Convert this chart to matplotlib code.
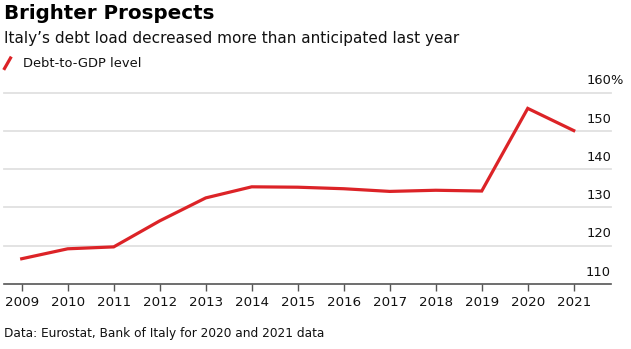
import matplotlib.pyplot as plt

plt.rcParams['font.family'] = ['DejaVu Sans']

years = [2009, 2010, 2011, 2012, 2013, 2014, 2015, 2016, 2017, 2018, 2019, 2020, 2021]
debt_to_gdp = [116.6, 119.2, 119.7, 126.5, 132.5, 135.4, 135.3, 134.9, 134.2, 134.5, 134.3, 155.9, 150.1]
y_ticks = [110, 120, 130, 140, 150, 160]

RED = '#dc2327'
W, H = 631, 349

fig = plt.figure(figsize=(W / 100, H / 100), dpi=100)
ax = fig.add_axes([4 / W, 65 / H, 607 / W, 191.3 / H])

# gridlines above the baseline, axis line at 110
for v in y_ticks[1:]:
    ax.axhline(v, color='#e1e1e1', lw=1.3, zorder=1, clip_on=False)
ax.plot(years, debt_to_gdp, color=RED, lw=2.3, zorder=3, solid_joinstyle='miter', clip_on=False)

ax.set_xlim(2008.615, 2021.81)
ax.set_ylim(110, 160)
ax.set_xticks(years)
ax.set_xticklabels([str(y) for y in years], fontsize=9.6, color='#111111')
ax.tick_params(axis='x', length=5, width=1, color='#555555', pad=4)
ax.set_yticks([])
for s in ['top', 'right', 'left']:
    ax.spines[s].set_visible(False)
ax.spines['bottom'].set_color('#555555')
ax.spines['bottom'].set_linewidth(1.2)

# value labels sit above their gridline on the right
for v in y_ticks:
    ax.annotate(str(v), xy=(1, v), xycoords=('axes fraction', 'data'),
                xytext=(0, 6), textcoords='offset points',
                ha='right', va='baseline', fontsize=9.4, color='#111111')
ax.annotate('%', xy=(1, 160), xycoords=('axes fraction', 'data'),
            xytext=(-0.5, 6), textcoords='offset points',
            ha='left', va='baseline', fontsize=9.4, color='#111111')

fig.text(4 / W, 1 - 19.3 / H, 'Brighter Prospects', fontsize=14.3,
         fontweight='bold', ha='left', va='baseline')
fig.text(4 / W, 1 - 43.3 / H, "Italy\u2019s debt load decreased more than anticipated last year",
         fontsize=11, ha='left', va='baseline', color='#111111')

# legend entry
fig.add_artist(plt.Line2D([4.5 / W, 10.5 / W], [1 - 68.5 / H, 1 - 58 / H],
                          color=RED, lw=2.3, transform=fig.transFigure))
fig.text(23.3 / W, 1 - 67.3 / H, 'Debt-to-GDP level', fontsize=9.4,
         ha='left', va='baseline', color='#111111')

fig.text(4 / W, 1 - 337.3 / H, 'Data: Eurostat, Bank of Italy for 2020 and 2021 data',
         fontsize=8.7, ha='left', va='baseline', color='#111111')

fig.savefig('out.png', dpi=100)
